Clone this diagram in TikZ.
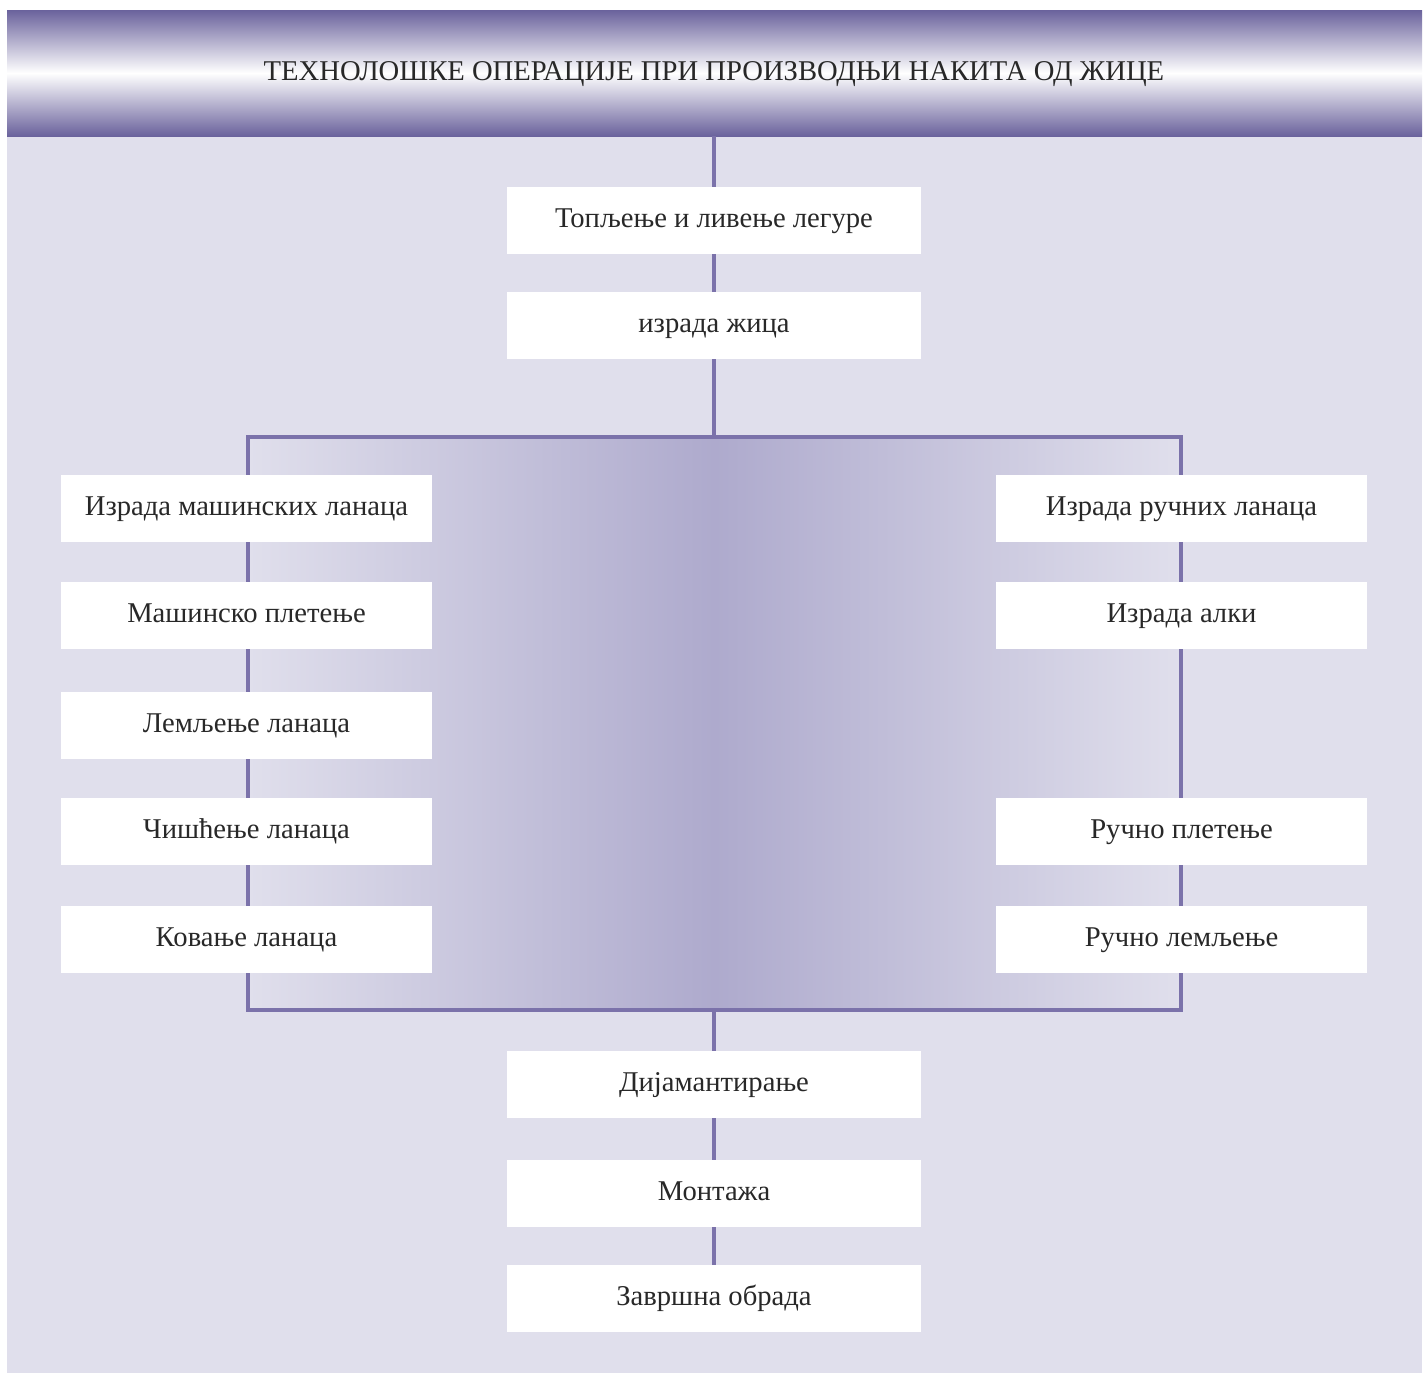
\documentclass[tikz,border=0pt]{standalone}
\usepackage{fontspec}
\setmainfont{Liberation Serif}
\definecolor{bgcol}{RGB}{224,223,236}
\definecolor{hdrcol}{RGB}{106,98,156}
\definecolor{linecol}{RGB}{123,114,170}
\definecolor{midcol}{RGB}{174,170,205}
\definecolor{txtcol}{RGB}{40,40,40}
\tikzset{
  opbox/.style={fill=white, text=txtcol, minimum width=8.3cm, minimum height=1.34cm,
    inner sep=0pt, text height=11.5pt, text depth=3.5pt, font=\fontsize{16.3}{19}\selectfont},
  sidebox/.style={opbox, minimum width=7.42cm},
  conn/.style={linecol, line width=2.2pt}
}
\begin{document}
\begin{tikzpicture}[x=0.02cm, y=-0.02cm]
\useasboundingbox (0,0) rectangle (1425,1373);
% podloga i zaglavlje
\fill[bgcol] (7,10) rectangle (1422,1373);
\shade[top color=hdrcol, bottom color=hdrcol, middle color=white] (7,10) rectangle (1422,136);
\node[text=txtcol, font=\fontsize{16.3}{19}\selectfont] (naslov) at (714,74)
  {ТЕХНОЛОШКЕ ОПЕРАЦИЈЕ ПРИ ПРОИЗВОДЊИ НАКИТА ОД ЖИЦЕ};
\coordinate (hdr) at (714,136);
% okvir
\shade[left color=bgcol, right color=bgcol, middle color=midcol] (248,437) rectangle (1181,1010);
\draw[conn] (248,437) rectangle (1181,1010);
\coordinate (gore) at (714,437);
\coordinate (dole) at (714,1010);
% srednji niz
\node[opbox] (toplj) at (714,220.5) {Топљење и ливење легуре};
\node[opbox] (zica) at (714,325.5) {израда жица};
\node[opbox] (dijam) at (714,1084.5) {Дијамантирање};
\node[opbox] (mont) at (714,1193.5) {Монтажа};
\node[opbox] (zavr) at (714,1298.5) {Завршна обрада};
% masinski lanci
\node[sidebox] (mas1) at (246.5,508.5) {Израда машинских ланаца};
\node[sidebox] (mas2) at (246.5,615.5) {Машинско плетење};
\node[sidebox] (mas3) at (246.5,725.5) {Лемљење ланаца};
\node[sidebox] (mas4) at (246.5,831.5) {Чишћење ланаца};
\node[sidebox] (mas5) at (246.5,939.5) {Ковање ланаца};
% rucni lanci
\node[sidebox] (ruc1) at (1181.5,508.5) {Израда ручних ланаца};
\node[sidebox] (ruc2) at (1181.5,615.5) {Израда алки};
\node[sidebox] (ruc3) at (1181.5,831.5) {Ручно плетење};
\node[sidebox] (ruc4) at (1181.5,939.5) {Ручно лемљење};
% veze
\draw[conn] (hdr) -- (toplj);
\draw[conn] (toplj) -- (zica);
\draw[conn] (zica) -- (gore);
\draw[conn] (dole) -- (dijam);
\draw[conn] (dijam) -- (mont);
\draw[conn] (mont) -- (zavr);
\end{tikzpicture}
\end{document}
